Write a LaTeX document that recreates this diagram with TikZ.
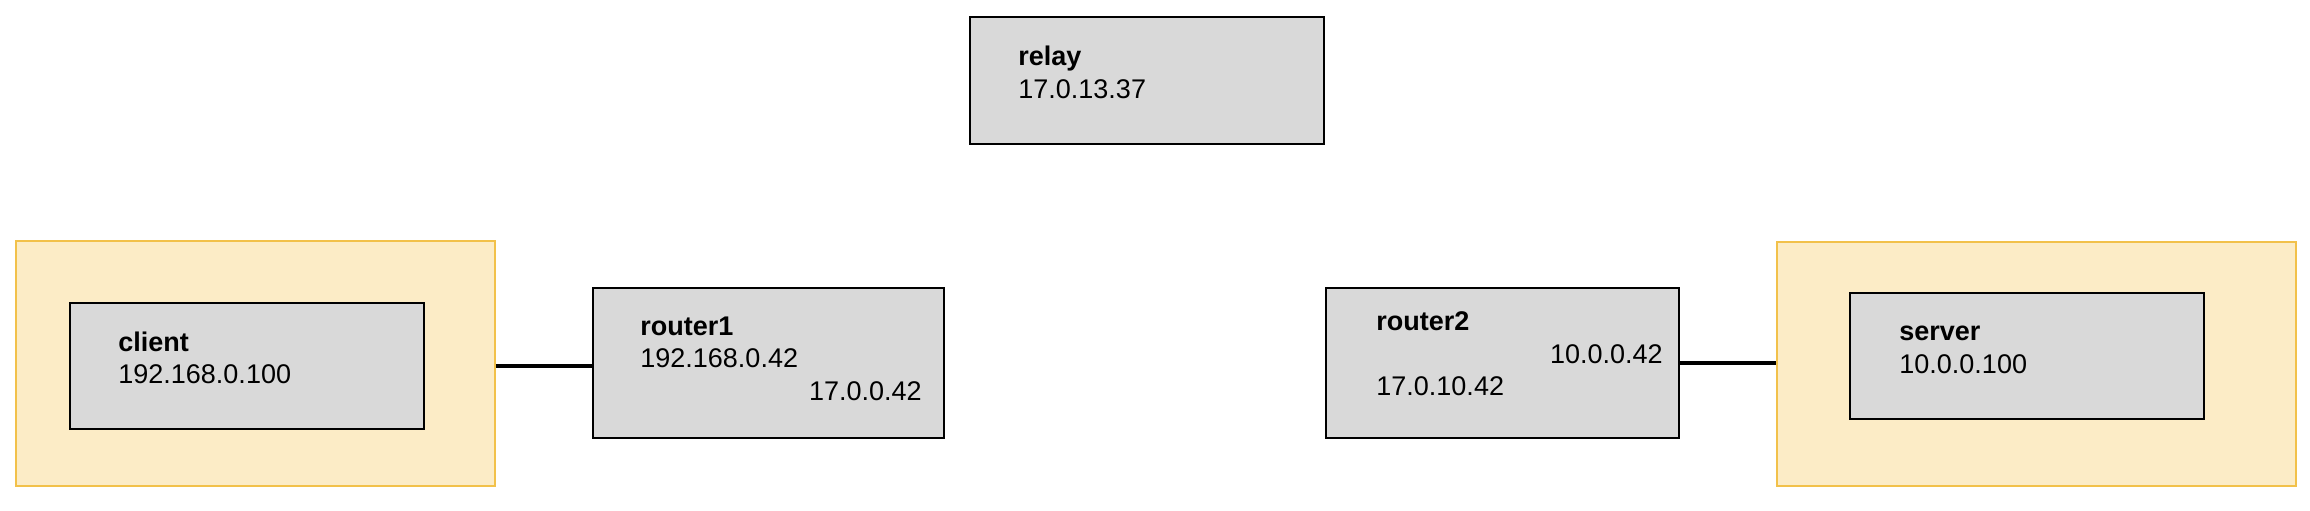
\documentclass[tikz,border=0pt]{standalone}
\usepackage{fontspec}
\setmainfont{Liberation Sans}
\definecolor{boxgray}{HTML}{D9D9D9}
\definecolor{zonefill}{HTML}{FCECC6}
\definecolor{zoneline}{HTML}{F2C14A}
\tikzset{
  hostbox/.style={draw=black, fill=boxgray, line width=0.75pt, inner sep=0pt},
  zonebox/.style={draw=zoneline, fill=zonefill, line width=0.75pt, inner sep=0pt},
  hosttext/.style={inner sep=0pt, anchor=base west},
  link/.style={line width=1.75pt},
}
\begin{document}
\begin{tikzpicture}[x=0.5pt, y=-0.5pt, font=\fontsize{13.5}{16}\selectfont]
  \useasboundingbox (0,0) rectangle (2310,510);
  % zones
  \node[zonebox, minimum width=239.5pt, minimum height=122.5pt] (clientzone) at (255.5,363.5) {};
  \node[zonebox, minimum width=259.5pt, minimum height=122pt] (serverzone) at (2036.5,364) {};
  % hosts
  \node[hostbox, minimum width=177pt, minimum height=63.5pt] (relay) at (1147,80.5) {};
  \node[hostbox, minimum width=177pt, minimum height=63pt] (client) at (247,366) {};
  \node[hostbox, minimum width=175.5pt, minimum height=75pt] (router1) at (768.5,363) {};
  \node[hostbox, minimum width=176.5pt, minimum height=75pt] (router2) at (1502.5,363) {};
  \node[hostbox, minimum width=177pt, minimum height=63pt] (server) at (2027,356) {};
  % labels
  \node[hosttext] (relayname) at (1018,65) {\bfseries relay};
  \node[hosttext] (relayip) at (1018,98) {17.0.13.37};
  \node[hosttext] (clientname) at (118,351) {\bfseries client};
  \node[hosttext] (clientip) at (118,383) {192.168.0.100};
  \node[hosttext] (router1name) at (640,335) {\bfseries router1};
  \node[hosttext] (router1lan) at (640,367) {192.168.0.42};
  \node[hosttext, anchor=base east] (router1wan) at (922,400) {17.0.0.42};
  \node[hosttext] (router2name) at (1376,330) {\bfseries router2};
  \node[hosttext, anchor=base east] (router2lan) at (1663,363) {10.0.0.42};
  \node[hosttext] (router2wan) at (1376,395) {17.0.10.42};
  \node[hosttext] (servername) at (1899,340) {\bfseries server};
  \node[hosttext] (serverip) at (1899,373) {10.0.0.100};
  % links
  \begin{scope}[link]
    \draw (clientzone.east |- client) to (router1.west |- client);
    \draw (router2.east) to (router2.east -| serverzone.west);
  \end{scope}
\end{tikzpicture}
\end{document}
